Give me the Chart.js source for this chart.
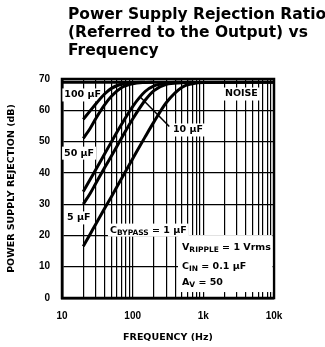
<!DOCTYPE html>
<html>
<head>
<meta charset="utf-8">
<script src="https://cdn.jsdelivr.net/npm/chart.js@4.4.0/dist/chart.umd.min.js"></script>
<style>
  html, body { margin: 0; padding: 0; background: #fff; }
  canvas { display: block; }
</style>
</head>
<body>
<canvas id="psrr-chart" width="325" height="347"></canvas>
<script>
// frequencies (Hz) the curves were read at
const freqs = [20, 25, 30, 40, 50, 70, 100, 150, 200, 300, 500, 700, 1000, 10000];

// PSRR in dB, one list per bypass cap (stops once it hits the noise floor)
const psrr100uF = [57.1, 59.8, 62.0, 65.2, 67.0, 68.4, 68.9, 69];
const psrr50uF = [51.0, 54.2, 57.3, 61.7, 64.5, 67.3, 68.5, 68.9, 69];
const psrr10uF = [34.0, 37.9, 41.0, 46.0, 49.9, 55.6, 61.2, 66.0, 67.8, 68.7, 69];
const psrr5uF = [30.0, 33.4, 36.6, 41.6, 45.4, 51.2, 57.2, 63.2, 66.3, 68.3, 68.8, 69];
const psrr1uF = [16.5, 20.4, 23.6, 28.6, 32.4, 38.3, 44.5, 51.5, 56.3, 62.5, 67.4, 68.5, 68.9, 69];

// noise floor + the little pointer line from the "10 µF" label
const noiseFreqs = [10, 10000];
const noiseDb = [69, 69];
const pointerFreqs = [127, 330];
const pointerDb = [64.3, 54.8];

// grid lines on the log axis, and which ones get a label
const gridFreqs = [10, 20, 30, 40, 50, 60, 70, 80, 90,
  100, 200, 300, 400, 500, 600, 700, 800, 900,
  1000, 2000, 3000, 4000, 5000, 6000, 7000, 8000, 9000, 10000];
const freqLabels = { 10: '10', 100: '100', 1000: '1k', 10000: '10k' };

const titleLines = ['Power Supply Rejection Ratio', '(Referred to the Output) vs', 'Frequency'];

// labels inside the plot, anchored in data coords [Hz, dB] (left edge, middle)
const notes = [
  { at: [10.8, 64.9], parts: [['100 µF']] },
  { at: [10.7, 46.3], parts: [['50 µF']] },
  { at: [11.8, 25.6], parts: [['5 µF']] },
  { at: [47.7, 21.7], parts: [['C'], ['BYPASS', true], [' = 1 µF']] },
  { at: [372, 53.7], parts: [['10 µF']] },
  { at: [2023, 65.2], parts: [['NOISE']] },
];
const condBox = { from: [438, 20.1], to: [10000, 1.9] };
const condNotes = [
  { at: [499, 16.0], parts: [['V'], ['RIPPLE', true], [' = 1 Vrms']] },
  { at: [499, 10.2], parts: [['C'], ['IN', true], [' = 0.1 µF']] },
  { at: [499, 4.8], parts: [['A'], ['V', true], [' = 50']] },
];

const pts = (xs, ys) => ys.map((y, i) => ({ x: xs[i], y: y }));

Chart.defaults.font.family = '"DejaVu Sans", sans-serif';
Chart.defaults.color = '#000';

const tickFont = { family: '"Liberation Sans Narrow", "Liberation Sans", sans-serif', size: 10, weight: 'bold' };
const axisTitleFont = { family: '"DejaVu Sans", sans-serif', size: 9.5, weight: 'bold' };

function curve(data) {
  return {
    data: data,
    borderColor: '#000',
    borderWidth: 3,
    pointRadius: 0,
    cubicInterpolationMode: 'monotone',
    fill: false
  };
}

function noteFont(sub) {
  return sub ? 'bold 7.5px "DejaVu Sans"' : 'bold 9.5px "DejaVu Sans"';
}

function noteWidth(ctx, parts) {
  let w = 0;
  parts.forEach(p => { ctx.font = noteFont(p[1]); w += ctx.measureText(p[0]).width; });
  return w;
}

function drawNote(ctx, x, y, parts) {
  ctx.fillStyle = '#000';
  ctx.textBaseline = 'middle';
  ctx.textAlign = 'left';
  let cx = x;
  parts.forEach(p => {
    ctx.font = noteFont(p[1]);
    ctx.fillText(p[0], cx, p[1] ? y + 2.5 : y);
    cx += ctx.measureText(p[0]).width;
  });
}

const decorations = {
  id: 'decorations',
  beforeDatasetsDraw(chart) {
    const { ctx, chartArea: a, scales: { x, y } } = chart;
    ctx.save();
    ctx.strokeStyle = '#000';
    ctx.lineWidth = 2.5;
    ctx.strokeRect(a.left, a.top, a.right - a.left, a.bottom - a.top);

    // white patches under the labels, so the grid doesn't show through (curves go on top)
    ctx.fillStyle = '#fff';
    notes.forEach(n => {
      const px = x.getPixelForValue(n.at[0]), py = y.getPixelForValue(n.at[1]);
      ctx.fillRect(px - 2, py - 6.5, noteWidth(ctx, n.parts) + 4, 13);
      ctx.fillStyle = '#fff';
    });
    const bx0 = x.getPixelForValue(condBox.from[0]), by0 = y.getPixelForValue(condBox.from[1]);
    const bx1 = x.getPixelForValue(condBox.to[0]), by1 = y.getPixelForValue(condBox.to[1]);
    ctx.fillStyle = '#fff';
    ctx.fillRect(bx0, by0, bx1 - bx0 - 1.5, by1 - by0);

    notes.forEach(n => drawNote(ctx, x.getPixelForValue(n.at[0]), y.getPixelForValue(n.at[1]), n.parts));
    condNotes.forEach(n => drawNote(ctx, x.getPixelForValue(n.at[0]), y.getPixelForValue(n.at[1]), n.parts));
    ctx.restore();
  },
  afterDraw(chart) {
    const { ctx } = chart;
    ctx.save();
    ctx.fillStyle = '#000';
    ctx.font = 'bold 15.5px "DejaVu Sans"';
    ctx.textAlign = 'left';
    ctx.textBaseline = 'alphabetic';
    titleLines.forEach((t, i) => ctx.fillText(t, 68, 18.5 + i * 18.3));
    ctx.restore();
  }
};

new Chart(document.getElementById('psrr-chart'), {
  type: 'line',
  data: {
    datasets: [
      curve(pts(freqs, psrr100uF)),
      curve(pts(freqs, psrr50uF)),
      curve(pts(freqs, psrr10uF)),
      curve(pts(freqs, psrr5uF)),
      curve(pts(freqs, psrr1uF)),
      curve(pts(noiseFreqs, noiseDb)),
      { data: pts(pointerFreqs, pointerDb), borderColor: '#000', borderWidth: 1.5, pointRadius: 0 }
    ]
  },
  options: {
    responsive: false,
    animation: false,
    devicePixelRatio: 1,
    layout: { padding: { top: 79, right: 51, left: 0, bottom: 0 } },
    plugins: { legend: { display: false }, tooltip: { enabled: false } },
    scales: {
      x: {
        type: 'logarithmic',
        min: 10,
        max: 10000,
        afterBuildTicks: s => { s.ticks = gridFreqs.map(v => ({ value: v })); },
        afterFit: s => { s.height = 49; },
        ticks: {
          autoSkip: false,
          maxRotation: 0,
          padding: 12,
          font: tickFont,
          callback: v => freqLabels[v] || ''
        },
        grid: { color: '#000', lineWidth: 1.2, drawTicks: false },
        border: { color: '#000', width: 2.5 },
        title: { display: true, text: 'FREQUENCY (Hz)', font: axisTitleFont, padding: { top: 0, bottom: 4 } }
      },
      y: {
        min: 0,
        max: 70,
        afterFit: s => { s.width = 62; },
        ticks: { stepSize: 10, padding: 12, font: tickFont },
        grid: { color: '#000', lineWidth: 1.2, drawTicks: false },
        border: { color: '#000', width: 2.5 },
        title: { display: true, text: 'POWER SUPPLY REJECTION (dB)', font: axisTitleFont, padding: { top: 6, bottom: 0 } }
      }
    }
  },
  plugins: [decorations]
});
</script>
</body>
</html>
